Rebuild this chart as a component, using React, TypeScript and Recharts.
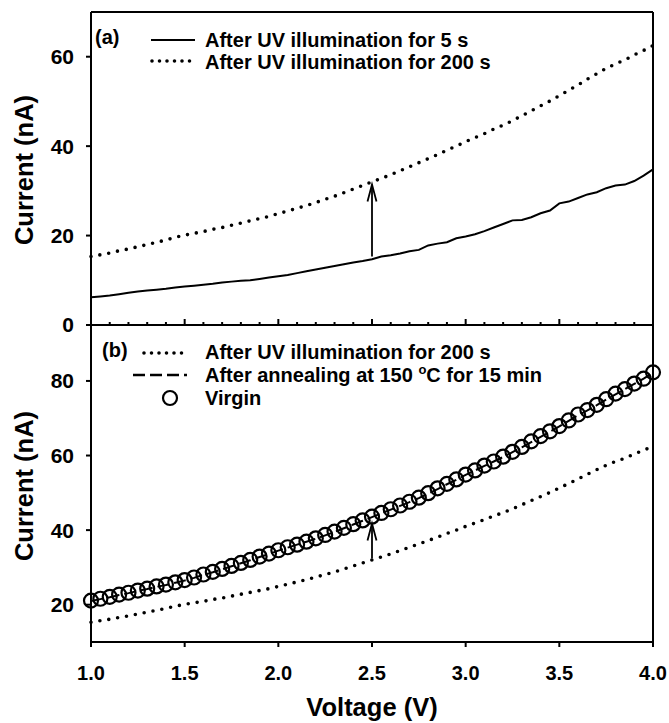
import React from "react";
import {
  ComposedChart,
  Line,
  XAxis,
  YAxis,
  ReferenceLine,
  ReferenceDot,
} from "recharts";

// voltage sweep (V)
const voltage = [
  1.0, 1.05, 1.1, 1.15, 1.2, 1.25, 1.3, 1.35, 1.4, 1.45,
  1.5, 1.55, 1.6, 1.65, 1.7, 1.75, 1.8, 1.85, 1.9, 1.95,
  2.0, 2.05, 2.1, 2.15, 2.2, 2.25, 2.3, 2.35, 2.4, 2.45,
  2.5, 2.55, 2.6, 2.65, 2.7, 2.75, 2.8, 2.85, 2.9, 2.95,
  3.0, 3.05, 3.1, 3.15, 3.2, 3.25, 3.3, 3.35, 3.4, 3.45,
  3.5, 3.55, 3.6, 3.65, 3.7, 3.75, 3.8, 3.85, 3.9, 3.95,
  4.0,
];

// current (nA) after 5 s of UV
const uv5s = [
  6.2, 6.4, 6.6, 6.9, 7.2, 7.5, 7.7, 7.9, 8.1, 8.4,
  8.6, 8.8, 9.0, 9.2, 9.5, 9.7, 9.9, 10.0, 10.3, 10.6,
  10.9, 11.2, 11.6, 12.0, 12.4, 12.8, 13.2, 13.6, 14.0, 14.3,
  14.7, 15.3, 15.6, 16.0, 16.5, 16.8, 17.8, 18.2, 18.5, 19.4,
  19.8, 20.3, 21.0, 21.8, 22.6, 23.4, 23.5, 24.1, 25.0, 25.6,
  27.2, 27.6, 28.4, 29.2, 29.7, 30.6, 31.2, 31.4, 32.2, 33.4,
  34.8,
];

// current (nA) after 200 s of UV
const uv200s = [
  15.3, 15.7, 16.1, 16.6, 17.0, 17.5, 18.0, 18.5, 19.0, 19.6,
  20.1, 20.5, 20.9, 21.4, 21.8, 22.3, 22.8, 23.3, 23.8, 24.3,
  24.9, 25.5, 26.1, 26.7, 27.4, 28.1, 28.8, 29.6, 30.4, 31.2,
  32.0, 32.8, 33.6, 34.5, 35.4, 36.3, 37.2, 38.1, 39.1, 40.0,
  41.0, 41.9, 42.8, 43.8, 44.7, 45.7, 46.8, 47.9, 49.0, 50.1,
  51.3, 52.5, 53.7, 55.0, 56.2, 57.4, 58.4, 59.3, 60.4, 61.4,
  62.5,
];

// current (nA) after annealing at 150 C for 15 min
const annealed = [
  21.0, 21.5, 22.0, 22.6, 23.1, 23.7, 24.2, 24.8, 25.3, 25.9,
  26.5, 27.2, 28.0, 28.7, 29.5, 30.3, 31.1, 31.9, 32.8, 33.6,
  34.5, 35.3, 36.1, 36.9, 37.7, 38.6, 39.5, 40.5, 41.5, 42.5,
  43.5, 44.5, 45.5, 46.5, 47.5, 48.6, 49.8, 51.0, 52.3, 53.5,
  54.8, 56.0, 57.2, 58.4, 59.6, 60.9, 62.2, 63.6, 65.0, 66.4,
  67.8, 69.3, 70.8, 72.1, 73.5, 75.0, 76.4, 77.8, 79.2, 80.6,
  82.2,
];

// current (nA) of the virgin device
const virgin = [
  21.1, 21.6, 22.1, 22.7, 23.2, 23.8, 24.3, 24.9, 25.4, 26.0,
  26.6, 27.3, 28.1, 28.8, 29.6, 30.4, 31.2, 32.0, 32.9, 33.7,
  34.6, 35.4, 36.1, 36.9, 37.8, 38.7, 39.6, 40.6, 41.6, 42.6,
  43.6, 44.6, 45.6, 46.6, 47.6, 48.7, 49.9, 51.2, 52.4, 53.6,
  54.9, 56.0, 57.3, 58.4, 59.7, 61.0, 62.3, 63.8, 65.2, 66.5,
  67.9, 69.4, 71.0, 72.2, 73.6, 75.1, 76.6, 77.8, 79.3, 80.6,
  82.3,
];

const minorTicks = [
  1.0, 1.1, 1.2, 1.3, 1.4, 1.5, 1.6, 1.7, 1.8, 1.9,
  2.0, 2.1, 2.2, 2.3, 2.4, 2.5, 2.6, 2.7, 2.8, 2.9,
  3.0, 3.1, 3.2, 3.3, 3.4, 3.5, 3.6, 3.7, 3.8, 3.9, 4.0,
];
const majorTicks = [1.0, 1.5, 2.0, 2.5, 3.0, 3.5, 4.0];
const topYTicks = [0, 20, 40, 60];
const bottomYTicks = [20, 40, 60, 80];

// arrows: [voltage, from, to]
const arrowA = [2.5, 15.3, 31.4];
const arrowB = [2.5, 32.4, 41.8];

const rows = voltage.map((v, i) => ({
  v,
  uv5: uv5s[i],
  uv200: uv200s[i],
  annealed: annealed[i],
  virgin: virgin[i],
}));

const FONT = '"Liberation Sans", Arial, Helvetica, sans-serif';
const isMajor = (v: number) => Math.abs(v * 2 - Math.round(v * 2)) < 1e-6;

const InnerTick = (p: any) => (
  <line
    x1={p.x}
    x2={p.x}
    y1={p.y}
    y2={p.y - (isMajor(p.payload.value) ? 6 : 3)}
    stroke="#000"
    strokeWidth={2}
  />
);

const BottomTick = (p: any) => (
  <g>
    <line x1={p.x} x2={p.x} y1={p.y} y2={p.y + 5} stroke="#000" strokeWidth={2} />
    <text
      x={p.x}
      y={p.y + 38}
      textAnchor="middle"
      fontFamily={FONT}
      fontWeight="bold"
      fontSize={20}
      fill="#000"
    >
      {Number(p.payload.value).toFixed(1)}
    </text>
  </g>
);

const arrowHead = (p: any) => (
  <path
    d={`M${p.cx - 4.5},${p.cy + 17} L${p.cx},${p.cy} L${p.cx + 4.5},${p.cy + 17}`}
    fill="none"
    stroke="#000"
    strokeWidth={1.8}
  />
);

const yTick = { fill: "#000", fontSize: 21, fontWeight: "bold", fontFamily: FONT };
const axisStroke = { stroke: "#000", strokeWidth: 2 };

const dotted = {
  stroke: "#000",
  strokeWidth: 3.6,
  strokeDasharray: "0 9",
  strokeLinecap: "round" as const,
};

const textStyle: React.CSSProperties = {
  position: "absolute",
  fontFamily: FONT,
  fontWeight: "bold",
  fontSize: 20,
  lineHeight: "20px",
  whiteSpace: "nowrap",
  transform: "translateY(-50%)",
  color: "#000",
};

const titleStyle: React.CSSProperties = {
  position: "absolute",
  fontWeight: "bold",
  fontSize: 25.5,
  whiteSpace: "nowrap",
  lineHeight: "26px",
};

export default function App() {
  return (
    <div
      style={{
        position: "absolute",
        left: 0,
        top: 0,
        width: 669,
        height: 723,
        background: "#fff",
        fontFamily: FONT,
      }}
    >
      {/* panel (a) */}
      <div style={{ position: "absolute", left: 0, top: 0 }}>
        <ComposedChart
          width={669}
          height={345}
          data={rows}
          margin={{ top: 12, right: 16, left: 0, bottom: 10 }}
        >
          <XAxis
            dataKey="v"
            type="number"
            domain={[1, 4]}
            ticks={minorTicks}
            interval={0}
            height={10}
            tickSize={0}
            tickMargin={0}
            tickLine={false}
            axisLine={axisStroke}
            tick={InnerTick}
          />
          <YAxis
            type="number"
            domain={[0, 70]}
            ticks={topYTicks}
            interval={0}
            width={91}
            tickSize={5}
            tickMargin={12}
            tick={yTick}
            tickLine={axisStroke}
            axisLine={axisStroke}
          />
          <ReferenceLine y={70} stroke="#000" strokeWidth={2} />
          <ReferenceLine x={4} stroke="#000" strokeWidth={2} />
          <Line
            dataKey="uv5"
            type="linear"
            stroke="#000"
            strokeWidth={2}
            dot={false}
            isAnimationActive={false}
          />
          <Line dataKey="uv200" type="linear" {...dotted} dot={false} isAnimationActive={false} />
          <ReferenceLine
            segment={[
              { x: arrowA[0], y: arrowA[1] },
              { x: arrowA[0], y: arrowA[2] },
            ]}
            stroke="#000"
            strokeWidth={1.8}
          />
          <ReferenceDot x={arrowA[0]} y={arrowA[2]} shape={arrowHead} />
        </ComposedChart>
      </div>

      {/* panel (b) */}
      <div style={{ position: "absolute", left: 0, top: 325 }}>
        <ComposedChart
          width={669}
          height={398}
          data={rows}
          margin={{ top: 0, right: 16, left: 0, bottom: 0 }}
        >
          <XAxis
            dataKey="v"
            type="number"
            domain={[1, 4]}
            ticks={majorTicks}
            interval={0}
            height={81}
            tickSize={0}
            tickMargin={0}
            tickLine={false}
            axisLine={axisStroke}
            tick={BottomTick}
          />
          <YAxis
            type="number"
            domain={[10, 95]}
            ticks={bottomYTicks}
            interval={0}
            width={91}
            tickSize={5}
            tickMargin={12}
            tick={yTick}
            tickLine={axisStroke}
            axisLine={axisStroke}
          />
          <ReferenceLine x={4} stroke="#000" strokeWidth={2} />
          <Line dataKey="uv200" type="linear" {...dotted} dot={false} isAnimationActive={false} />
          <Line
            dataKey="annealed"
            type="linear"
            stroke="#000"
            strokeWidth={2}
            strokeDasharray="12 5"
            dot={false}
            isAnimationActive={false}
          />
          <Line
            dataKey="virgin"
            type="linear"
            stroke="none"
            dot={{ r: 7, fill: "none", stroke: "#000", strokeWidth: 2.2 }}
            isAnimationActive={false}
          />
          <ReferenceLine
            segment={[
              { x: arrowB[0], y: arrowB[1] },
              { x: arrowB[0], y: arrowB[2] },
            ]}
            stroke="#000"
            strokeWidth={1.8}
          />
          <ReferenceDot x={arrowB[0]} y={arrowB[2]} shape={arrowHead} />
        </ComposedChart>
      </div>

      {/* legend symbols */}
      <svg
        width={669}
        height={723}
        style={{ position: "absolute", left: 0, top: 0, pointerEvents: "none" }}
      >
        <line x1={151} x2={195} y1={40} y2={40} stroke="#000" strokeWidth={2} />
        <line x1={152} x2={195} y1={61} y2={61} {...dotted} strokeDasharray="0 7.5" />
        <line x1={144} x2={187} y1={353} y2={353} {...dotted} strokeDasharray="0 7.5" />
        <line x1={133} x2={187} y1={375} y2={375} stroke="#000" strokeWidth={2.5} strokeDasharray="12 5" />
        <circle cx={170} cy={398} r={7} fill="none" stroke="#000" strokeWidth={2.2} />
      </svg>

      <div style={{ ...textStyle, left: 95, top: 37 }}>(a)</div>
      <div style={{ ...textStyle, left: 205, top: 40 }}>After UV illumination for 5 s</div>
      <div style={{ ...textStyle, left: 205, top: 62 }}>After UV illumination for 200 s</div>

      <div style={{ ...textStyle, left: 102, top: 350 }}>(b)</div>
      <div style={{ ...textStyle, left: 205, top: 352 }}>After UV illumination for 200 s</div>
      <div style={{ ...textStyle, left: 205, top: 376 }}>
        After annealing at 150{" "}
        <span style={{ fontSize: 13, position: "relative", top: -8 }}>o</span>C for 15 min
      </div>
      <div style={{ ...textStyle, left: 205, top: 398 }}>Virgin</div>

      {/* axis titles */}
      <div style={{ ...titleStyle, left: 24, top: 170, transform: "translate(-50%, -50%) rotate(-90deg)" }}>
        Current (nA)
      </div>
      <div style={{ ...titleStyle, left: 24, top: 486, transform: "translate(-50%, -50%) rotate(-90deg)" }}>
        Current (nA)
      </div>
      <div style={{ ...titleStyle, left: 372, top: 707, transform: "translate(-50%, -50%)" }}>
        Voltage (V)
      </div>
    </div>
  );
}
